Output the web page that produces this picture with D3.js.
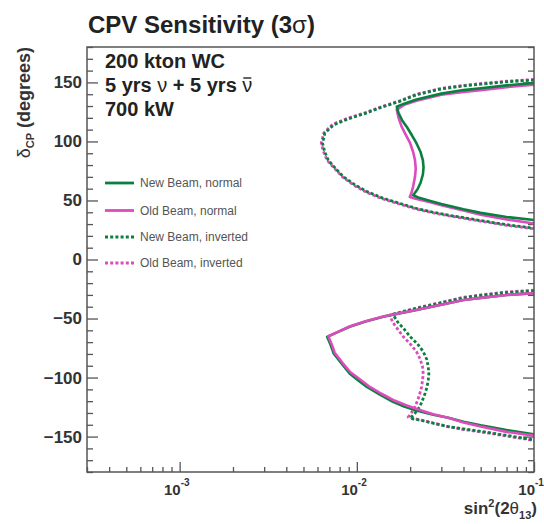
<!DOCTYPE html>
<html><head><meta charset="utf-8">
<script src="https://cdn.jsdelivr.net/npm/d3@7"></script>
<style>
body{margin:0;background:#fff}
text{font-family:"Liberation Sans",Arial,Helvetica,sans-serif}
</style>
</head><body>
<svg id="chart" width="544" height="524"></svg>
<script>
// ---------- data (sin^2(2theta13), deltaCP in degrees) ----------
const seriesLabels = ["New Beam, normal", "Old Beam, normal", "New Beam, inverted", "Old Beam, inverted"];
const yMajorTicks = [-150, -100, -50, 0, 50, 100, 150];
const xMajorTicks = [1e-3, 1e-2, 1e-1];
const xTickExponents = ["-3", "-2", "-1"];

const newNormalUpper = [[0.1,149.5],[0.07,147.5],[0.05,145],[0.04,143.5],[0.03,140.5],[0.0217,135.5],[0.0185,132],[0.0168,129.5],[0.0172,124],[0.0180,118],[0.0192,112],[0.0205,105],[0.0217,98.5],[0.0229,91],[0.0236,84],[0.0238,78],[0.0236,72],[0.0229,65],[0.0220,59.5],[0.0208,54.5],[0.0222,52.5],[0.026,49.5],[0.03,47],[0.04,42.5],[0.05,39.5],[0.07,36],[0.1,33.5]];
const oldNormalUpper = [[0.1,148],[0.07,146],[0.05,143.5],[0.04,142],[0.03,139.5],[0.0217,134.5],[0.0185,131],[0.0168,127],[0.0172,120],[0.0179,112.5],[0.0190,105],[0.0200,98.5],[0.0208,91],[0.0213,84],[0.0215,77],[0.0213,70],[0.0208,62],[0.0203,56],[0.0199,53],[0.0215,51.5],[0.026,48.5],[0.03,46],[0.04,41.5],[0.05,38],[0.07,34],[0.1,30.5]];
const newInvertedUpper = [[0.1,152],[0.07,150.5],[0.05,148.5],[0.04,147],[0.03,144.5],[0.0217,139.5],[0.0175,134],[0.0135,128.5],[0.0113,124],[0.0089,119],[0.0074,114],[0.0066,107],[0.0064,98.5],[0.0066,91],[0.0069,84],[0.0076,77],[0.0084,70],[0.0097,63.5],[0.0114,57.5],[0.0140,52],[0.0175,47.5],[0.022,43],[0.027,40],[0.033,37.5],[0.04,35.5],[0.05,33],[0.07,29.5],[0.1,26.5]];
const oldInvertedUpper = [[0.1,152.5],[0.07,151],[0.05,149],[0.04,147.5],[0.03,145],[0.0217,140],[0.0175,134.5],[0.0135,129],[0.0112,124.5],[0.0088,119.5],[0.0073,114.5],[0.0065,107],[0.0063,98.5],[0.0065,91],[0.0068,84],[0.0075,77],[0.0083,70],[0.0096,63],[0.0113,57],[0.0139,51.5],[0.0174,47],[0.022,42.5],[0.027,39.5],[0.033,37],[0.04,35],[0.05,32.5],[0.07,29],[0.1,26]];

const newNormalLower = [[0.1,-28.5],[0.07,-30],[0.05,-32.5],[0.04,-34.3],[0.0328,-37],[0.0217,-42.8],[0.0141,-48.4],[0.0112,-52.5],[0.0091,-57],[0.0078,-61.5],[0.0068,-65.5],[0.0071,-72],[0.0074,-79.5],[0.0082,-88],[0.0091,-96.5],[0.0102,-102.5],[0.0114,-108],[0.0135,-114.5],[0.016,-120.5],[0.0185,-124.5],[0.0217,-128],[0.027,-131.5],[0.0328,-134],[0.04,-137.5],[0.05,-140.5],[0.07,-144.5],[0.1,-148]];
const oldNormalLower = [[0.1,-28.5],[0.07,-30],[0.05,-32.5],[0.04,-34.3],[0.0328,-37],[0.0217,-42.8],[0.0141,-48.2],[0.0112,-52.3],[0.0091,-56.8],[0.0078,-61.3],[0.0069,-65],[0.0072,-71.5],[0.0075,-79],[0.0083,-87.5],[0.0092,-95.5],[0.0104,-101.5],[0.0116,-107],[0.0137,-113.5],[0.0163,-119.5],[0.019,-123.5],[0.0222,-127],[0.027,-131],[0.0328,-134],[0.04,-138],[0.05,-141.5],[0.07,-146],[0.1,-149.2]];
const newInvertedLower = [[0.1,-26.5],[0.07,-28],[0.05,-30.5],[0.04,-32.5],[0.0328,-35.5],[0.0217,-41.5],[0.0160,-46.5],[0.0170,-53],[0.0185,-59],[0.0200,-65.4],[0.0220,-71.5],[0.0237,-78],[0.0248,-84.5],[0.0253,-91],[0.0255,-97],[0.0253,-102],[0.0249,-108],[0.0243,-113.3],[0.0235,-119],[0.0227,-124.6],[0.0213,-130.2],[0.0200,-134.5],[0.0235,-136.5],[0.027,-138.7],[0.0328,-141.6],[0.04,-143.5],[0.05,-145.5],[0.07,-149],[0.1,-152.8]];
const oldInvertedLower = [[0.1,-26],[0.07,-27.5],[0.05,-30],[0.04,-32],[0.0328,-35],[0.0217,-41],[0.0153,-47],[0.0160,-53.5],[0.0170,-59],[0.0183,-65.4],[0.0200,-71.5],[0.0217,-78],[0.0228,-84.5],[0.0235,-91],[0.0237,-97],[0.0235,-102],[0.0232,-108],[0.0227,-113.3],[0.0221,-119],[0.0213,-124.6],[0.0203,-130],[0.0195,-133.5],[0.023,-136],[0.027,-138.5],[0.0328,-141.6],[0.04,-144],[0.05,-146],[0.07,-149.5],[0.1,-153.3]];

// ---------- layout ----------
const svg = d3.select("#chart");
const L = 87, R = 534, T = 47, B = 472;
const GREEN = "#0a8040", MAGENTA = "#dc4cbc", AXIS = "#555";

const x = d3.scaleLog().domain([3e-4, 0.1]).range([L, R]);
const y = d3.scaleLinear().domain([-180, 180]).range([B, T]);

svg.append("rect").attr("width", 544).attr("height", 524).attr("fill", "#fff");

svg.append("clipPath").attr("id", "clip").append("rect")
  .attr("x", L).attr("y", T).attr("width", R - L).attr("height", B - T);

// ---------- axes ----------
const yMinor = d3.range(-180, 181, 10).filter(v => !yMajorTicks.includes(v));
const leftMajor = svg.append("g").attr("transform", `translate(${L},0)`)
  .call(d3.axisLeft(y).tickValues(yMajorTicks).tickSize(-11).tickPadding(5).tickFormat(d3.format("d")));
const leftMinor = svg.append("g").attr("transform", `translate(${L},0)`)
  .call(d3.axisLeft(y).tickValues(yMinor).tickSize(-6).tickFormat(""));
const rightMajor = svg.append("g").attr("transform", `translate(${R},0)`)
  .call(d3.axisRight(y).tickValues(yMajorTicks).tickSize(-11).tickFormat(""));
const rightMinor = svg.append("g").attr("transform", `translate(${R},0)`)
  .call(d3.axisRight(y).tickValues(yMinor).tickSize(-6).tickFormat(""));

const xMinor = [];
[-4, -3, -2].forEach(e => { for (let k = 2; k <= 9; k++) { const v = k * Math.pow(10, e); if (v >= 3e-4 && v < 0.1) xMinor.push(v); } });
const botMajor = svg.append("g").attr("transform", `translate(0,${B})`)
  .call(d3.axisBottom(x).tickValues(xMajorTicks).tickSize(-10).tickFormat(""));
const botMinor = svg.append("g").attr("transform", `translate(0,${B})`)
  .call(d3.axisBottom(x).tickValues(xMinor).tickSize(-5).tickFormat(""));

[leftMajor, leftMinor, rightMajor, rightMinor, botMajor, botMinor].forEach(g => {
  g.select(".domain").remove();
  g.selectAll("line").attr("stroke", AXIS).attr("stroke-width", 1.3);
});
leftMajor.selectAll("text").attr("font-size", 17).attr("font-weight", "bold")
  .attr("fill", "#333").attr("font-family", '"Liberation Sans",Arial,sans-serif');

xMajorTicks.forEach((v, i) => {
  svg.append("text").attr("x", x(v) + 1).attr("y", 495).attr("text-anchor", "end")
    .attr("font-size", 15).attr("font-weight", "bold").attr("fill", "#333").text("10");
  svg.append("text").attr("x", x(v) + 1).attr("y", 486).attr("text-anchor", "start")
    .attr("font-size", 10).attr("font-weight", "bold").attr("fill", "#333").text(xTickExponents[i]);
});

// ---------- curves ----------
const line = d3.line().x(d => x(d[0])).y(d => y(d[1]));
const plot = svg.append("g").attr("clip-path", "url(#clip)");
const curves = [
  {d: oldInvertedUpper, c: MAGENTA, dash: true},
  {d: oldInvertedLower, c: MAGENTA, dash: true},
  {d: newInvertedUpper, c: GREEN, dash: true},
  {d: newInvertedLower, c: GREEN, dash: true},
  {d: newNormalLower, c: GREEN, dash: false},
  {d: oldNormalUpper, c: MAGENTA, dash: false},
  {d: newNormalUpper, c: GREEN, dash: false},
  {d: oldNormalLower, c: MAGENTA, dash: false},
];
curves.forEach(s => {
  plot.append("path").attr("d", line(s.d)).attr("fill", "none")
    .attr("stroke", s.c).attr("stroke-width", s.dash ? 2.8 : 2.6)
    .attr("stroke-dasharray", s.dash ? "3,2.2" : null)
    .attr("stroke-linejoin", "round");
});

svg.append("rect").attr("x", L).attr("y", T).attr("width", R - L).attr("height", B - T)
  .attr("fill", "none").attr("stroke", AXIS).attr("stroke-width", 1.5);

// ---------- legend ----------
const legendColors = [GREEN, MAGENTA, GREEN, MAGENTA];
const legendDash = [false, false, true, true];
const legendY = [183, 210.5, 237, 263];
seriesLabels.forEach((lab, i) => {
  svg.append("line").attr("x1", 105).attr("x2", 134).attr("y1", legendY[i]).attr("y2", legendY[i])
    .attr("stroke", legendColors[i]).attr("stroke-width", 2.8)
    .attr("stroke-dasharray", legendDash[i] ? "3,2.2" : null);
  svg.append("text").attr("x", 140).attr("y", legendY[i]).attr("dy", "0.35em")
    .attr("font-size", 12).attr("fill", "#555").text(lab);
});

// ---------- titles ----------
const title = svg.append("text").attr("x", 88).attr("y", 33).attr("font-size", 24)
  .attr("font-weight", "bold").attr("fill", "#222");
title.append("tspan").text("CPV Sensitivity (3");
title.append("tspan").attr("font-weight", "normal").text("σ");
title.append("tspan").text(")");

svg.append("text").attr("x", 105).attr("y", 68).attr("font-size", 20)
  .attr("font-weight", "bold").attr("fill", "#222").text("200 kton WC");
const info2 = svg.append("text").attr("x", 105).attr("y", 92).attr("font-size", 20)
  .attr("font-weight", "bold").attr("fill", "#222");
info2.append("tspan").text("5 yrs ");
info2.append("tspan").attr("font-weight", "normal").text("ν");
info2.append("tspan").text(" + 5 yrs ");
info2.append("tspan").attr("font-weight", "normal").text("ν");
{
  const n = info2.node();
  const box = n.getExtentOfChar(n.getNumberOfChars() - 1);
  svg.append("line").attr("x1", box.x + 1).attr("x2", box.x + box.width - 1)
    .attr("y1", 78).attr("y2", 78).attr("stroke", "#222").attr("stroke-width", 1.4);
}
svg.append("text").attr("x", 105).attr("y", 116).attr("font-size", 20)
  .attr("font-weight", "bold").attr("fill", "#222").text("700 kW");

const yt = svg.append("text").attr("transform", "translate(30,47) rotate(-90)")
  .attr("text-anchor", "end").attr("font-size", 18).attr("font-weight", "bold").attr("fill", "#333");
yt.append("tspan").attr("font-weight", "normal").text("δ");
yt.append("tspan").attr("font-size", 11).attr("dy", 4).text("CP");
yt.append("tspan").attr("dy", -4).text(" (degrees)");

const xt = svg.append("text").attr("x", 537).attr("y", 514).attr("text-anchor", "end")
  .attr("font-size", 17).attr("font-weight", "bold").attr("fill", "#333");
xt.append("tspan").text("sin");
xt.append("tspan").attr("font-size", 11).attr("dy", -7).text("2");
xt.append("tspan").attr("dy", 7).text("(2");
xt.append("tspan").attr("font-weight", "normal").text("θ");
xt.append("tspan").attr("font-size", 11).attr("dy", 5).text("13");
xt.append("tspan").attr("dy", -5).text(")");
</script>
</body></html>
